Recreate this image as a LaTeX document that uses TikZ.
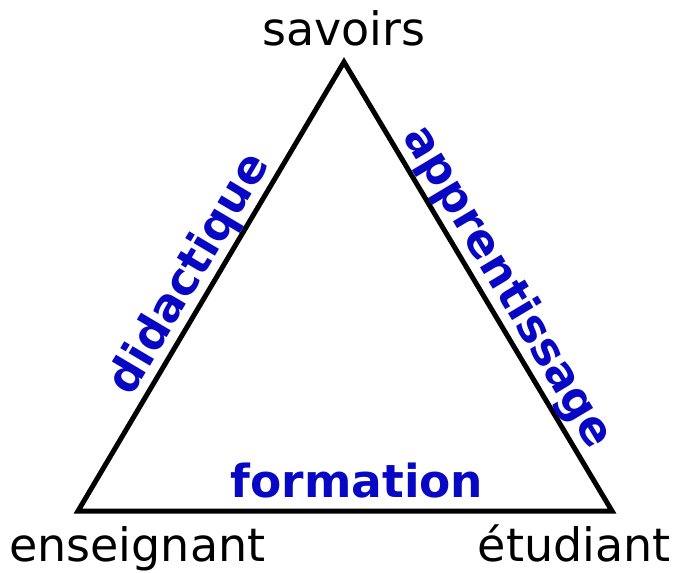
\documentclass[tikz,border=0pt]{standalone}
\usepackage{fontspec}
\setmainfont{DejaVu Sans}
\definecolor{lblblue}{RGB}{8,8,196}
\begin{document}
\begin{tikzpicture}[x=1pt,y=-1pt,
  vlabel/.style={inner sep=0pt, font=\fontsize{46}{50}\selectfont, text=black},
  elabel/.style={inner sep=2pt, font=\fontsize{45.5}{50}\selectfont\bfseries, text=lblblue},
  side/.style={line width=5pt, line join=miter}]
\useasboundingbox (0,0) rectangle (681,573);
\coordinate (S) at (344,62);
\coordinate (E) at (78,511);
\coordinate (T) at (612,511);
\draw[side] (E) -- (S) -- (T) -- cycle;
\path (E) -- node[elabel, sloped, above, pos=0.5] (did) {didactique} (S);
\path (S) -- node[elabel, sloped, above, pos=0.53] (app) {apprentissage} (T);
\node[elabel, anchor=base, inner sep=0pt] (form) at (357,497) {formation};
\node[vlabel, anchor=base] (sav) at (344,45) {savoirs};
\node[vlabel, anchor=base west] (ens) at (9,561) {enseignant};
\node[vlabel, anchor=base east] (etu) at (671,561) {étudiant};
\end{tikzpicture}
\end{document}
